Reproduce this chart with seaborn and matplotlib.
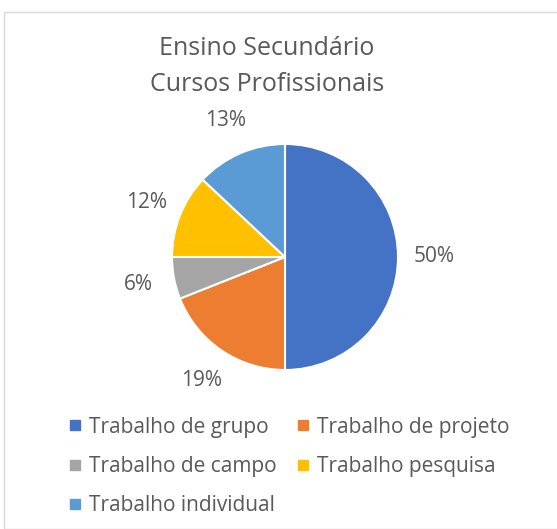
import seaborn as sns
import matplotlib.pyplot as plt
from matplotlib.lines import Line2D
from matplotlib.patches import Rectangle

# Dados do gráfico
categorias = ["Trabalho de grupo", "Trabalho de projeto", "Trabalho de campo",
              "Trabalho pesquisa", "Trabalho individual"]
percentagens = [50, 19, 6, 12, 13]
cores = ["#4472C4", "#ED7D31", "#A5A5A5", "#FFC000", "#5B9BD5"]
titulo = "Ensino Secundário\nCursos Profissionais"

sns.set_theme(style="white")
plt.rcParams['font.family'] = ['Open Sans', 'DejaVu Sans']
cor_texto = "#595959"

fig = plt.figure(figsize=(5.57, 5.29), dpi=100)
W, H = 557, 529

# moldura do gráfico
fig.patches.append(Rectangle((4 / W, 0.0), 1.0, 1 - 12 / H, transform=fig.transFigure,
                             fill=False, edgecolor="#D9D9D9", linewidth=1))

# área do gráfico circular
cx, cy, r = 285, 257, 113
ax = fig.add_axes([(cx - r) / W, (H - cy - r) / H, 2 * r / W, 2 * r / H])
wedges, textos, autotextos = ax.pie(
    percentagens, colors=cores, startangle=90, counterclock=False,
    autopct="%1.0f%%", pctdistance=1.32, radius=1,
    wedgeprops=dict(edgecolor="white", linewidth=1.5),
    textprops=dict(color=cor_texto, fontsize=15))
ax.set_xlim(-1, 1)
ax.set_ylim(-1, 1)
ax.set_aspect("equal")
ax.axis("off")

fig.text(267 / W, 1 - 66.5 / H, titulo, ha="center", va="center",
         fontsize=18, color=cor_texto, linespacing=1.55)

# legenda em duas colunas (preenchida por coluna)
ordem = [0, 2, 4, 1, 3]
handles = [Line2D([], [], marker="s", linestyle="none", markersize=7.5,
                  markerfacecolor=cores[i], markeredgecolor=cores[i]) for i in ordem]
labels = [categorias[i] for i in ordem]
fig.legend(handles, labels, ncol=2, loc="upper left", bbox_to_anchor=(48 / W, 1 - 398 / H),
           frameon=False, fontsize=15, labelcolor=cor_texto, handletextpad=0.25,
           columnspacing=0.9, labelspacing=0.87, handlelength=0.8)

plt.savefig("out.png", dpi=100)
